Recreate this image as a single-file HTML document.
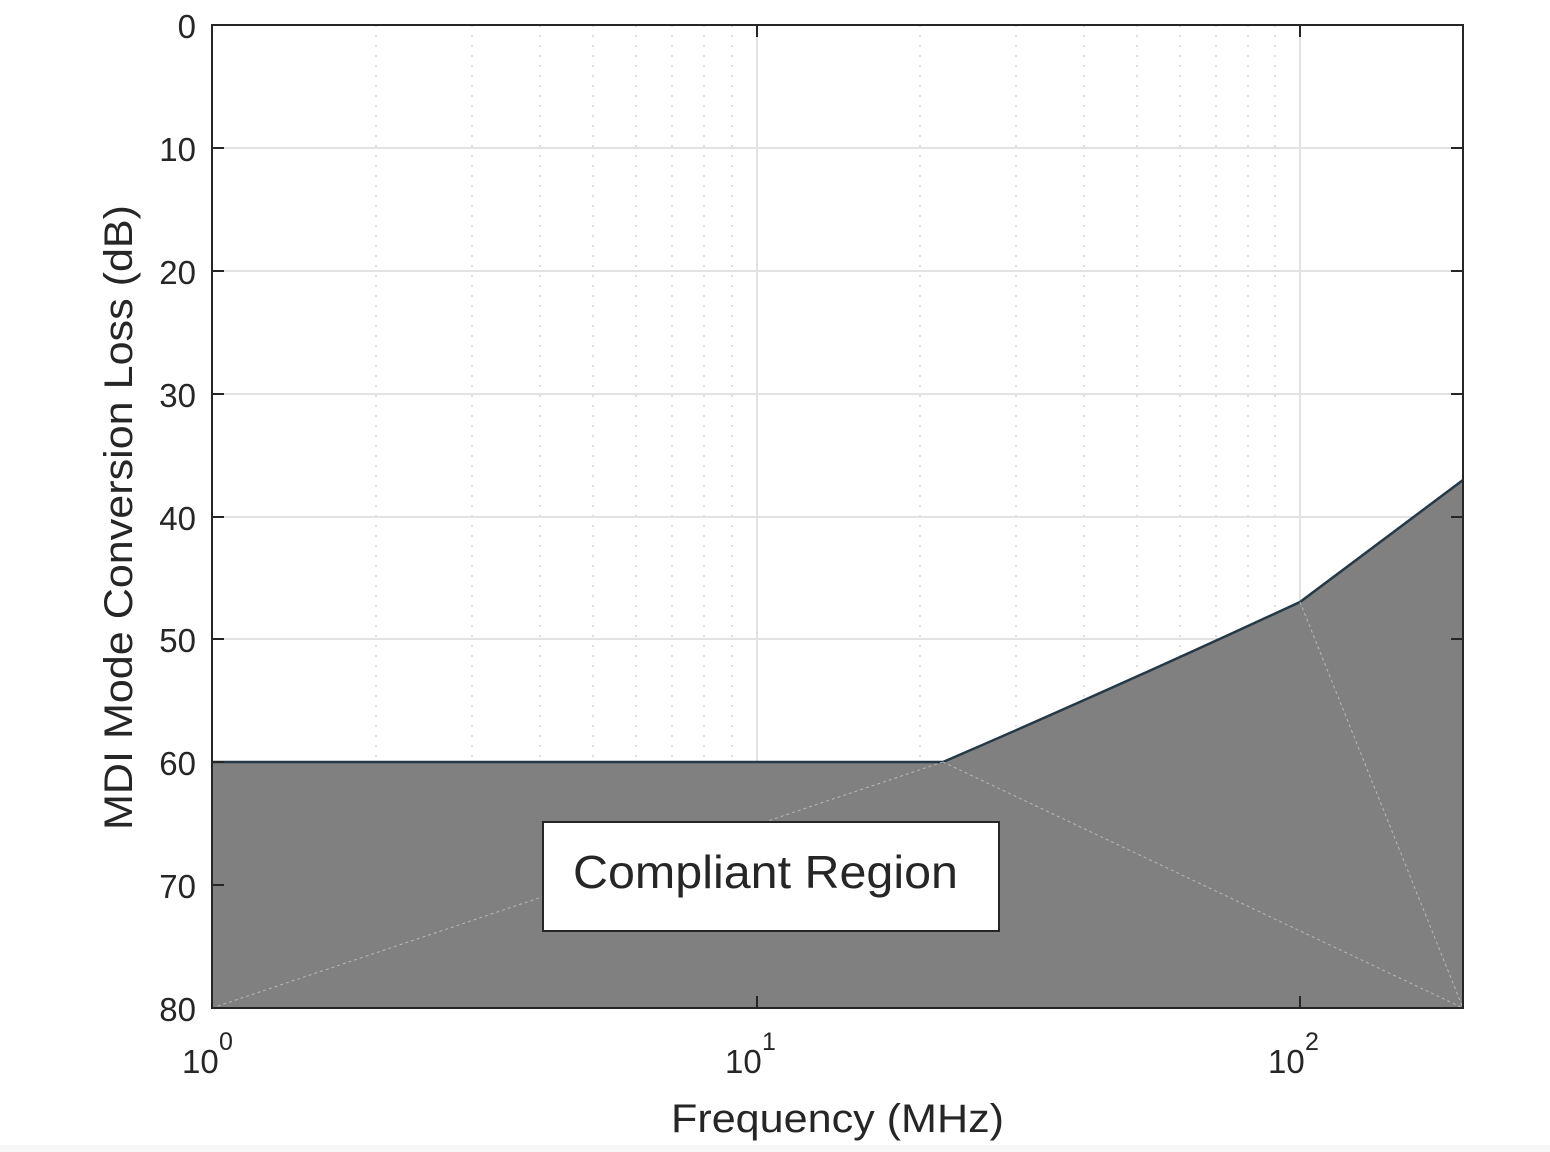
<!DOCTYPE html>
<html><head><meta charset="utf-8"><style>
html,body{margin:0;padding:0;background:#fff;}
svg{display:block;}
text{font-family:"Liberation Sans",sans-serif;fill:#262626;}
</style></head><body>
<svg width="1550" height="1152" viewBox="0 0 1550 1152" xmlns="http://www.w3.org/2000/svg">
<rect x="0" y="0" width="1550" height="1152" fill="#fff"/>
<rect x="0" y="1145" width="1550" height="7" fill="#f7f7f7"/>
<g stroke="#c8c8c8" stroke-width="1.2" stroke-dasharray="2,8">
<line x1="376" y1="25" x2="376" y2="1008"/><line x1="472" y1="25" x2="472" y2="1008"/>
<line x1="540" y1="25" x2="540" y2="1008"/><line x1="593" y1="25" x2="593" y2="1008"/>
<line x1="636" y1="25" x2="636" y2="1008"/><line x1="672" y1="25" x2="672" y2="1008"/>
<line x1="704" y1="25" x2="704" y2="1008"/><line x1="732" y1="25" x2="732" y2="1008"/>
<line x1="920" y1="25" x2="920" y2="1008"/><line x1="1016" y1="25" x2="1016" y2="1008"/>
<line x1="1084" y1="25" x2="1084" y2="1008"/><line x1="1137" y1="25" x2="1137" y2="1008"/>
<line x1="1180" y1="25" x2="1180" y2="1008"/><line x1="1216" y1="25" x2="1216" y2="1008"/>
<line x1="1248" y1="25" x2="1248" y2="1008"/><line x1="1275" y1="25" x2="1275" y2="1008"/>
</g>
<g stroke="#e2e2e2" stroke-width="2">
<line x1="757" y1="25" x2="757" y2="1008"/><line x1="1300" y1="25" x2="1300" y2="1008"/>
<line x1="212" y1="148" x2="1463" y2="148"/><line x1="212" y1="271" x2="1463" y2="271"/>
<line x1="212" y1="394" x2="1463" y2="394"/><line x1="212" y1="517" x2="1463" y2="517"/>
<line x1="212" y1="639" x2="1463" y2="639"/><line x1="212" y1="762" x2="1463" y2="762"/>
<line x1="212" y1="885" x2="1463" y2="885"/>
</g>
<path d="M212,762 L943,762 Q1110,690 1300,602 L1463,480 L1463,1008 L212,1008 Z" fill="#808080" stroke="none"/>
<path d="M212,762 L943,762 Q1110,690 1300,602 L1463,480" fill="none" stroke="#243846" stroke-width="2.5"/>
<g stroke="#b8b8b8" stroke-width="1" stroke-dasharray="3,3">
<line x1="212" y1="1008" x2="943" y2="762"/>
<line x1="943" y1="762" x2="1463" y2="1008"/>
<line x1="1300" y1="602" x2="1463" y2="1008"/>
</g>
<rect x="212" y="25" width="1251" height="983" fill="none" stroke="#262626" stroke-width="2"/>
<g stroke="#262626" stroke-width="2">
<line x1="757" y1="25" x2="757" y2="37"/><line x1="1300" y1="25" x2="1300" y2="37"/>
<line x1="757" y1="1008" x2="757" y2="996"/><line x1="1300" y1="1008" x2="1300" y2="996"/>
<line x1="212" y1="148" x2="224" y2="148"/><line x1="212" y1="271" x2="224" y2="271"/>
<line x1="212" y1="394" x2="224" y2="394"/><line x1="212" y1="517" x2="224" y2="517"/>
<line x1="212" y1="639" x2="224" y2="639"/><line x1="212" y1="762" x2="224" y2="762"/>
<line x1="212" y1="885" x2="224" y2="885"/>
<line x1="1463" y1="148" x2="1451" y2="148"/><line x1="1463" y1="271" x2="1451" y2="271"/>
<line x1="1463" y1="394" x2="1451" y2="394"/><line x1="1463" y1="517" x2="1451" y2="517"/>
<line x1="1463" y1="639" x2="1451" y2="639"/>
</g>
<rect x="543" y="822" width="456" height="109" fill="#fff" stroke="#262626" stroke-width="2"/>
<text x="573" y="888" font-size="46" textLength="385" lengthAdjust="spacingAndGlyphs" fill="#111">Compliant Region</text>
<g font-size="33" text-anchor="end">
<text x="196" y="38">0</text><text x="196" y="161">10</text><text x="196" y="284">20</text>
<text x="196" y="407">30</text><text x="196" y="530">40</text><text x="196" y="652">50</text>
<text x="196" y="775">60</text><text x="196" y="898">70</text><text x="196" y="1021">80</text>
</g>
<g font-size="33">
<text x="182" y="1073">10</text><text x="219" y="1050" font-size="25">0</text>
<text x="725" y="1073">10</text><text x="762" y="1050" font-size="25">1</text>
<text x="1268" y="1073">10</text><text x="1305" y="1050" font-size="25">2</text>
</g>
<text x="671" y="1132" font-size="40" textLength="333" lengthAdjust="spacingAndGlyphs">Frequency (MHz)</text>
<text transform="translate(132,830) rotate(-90)" font-size="40" textLength="625" lengthAdjust="spacingAndGlyphs">MDI Mode Conversion Loss (dB)</text>
</svg>
</body></html>
